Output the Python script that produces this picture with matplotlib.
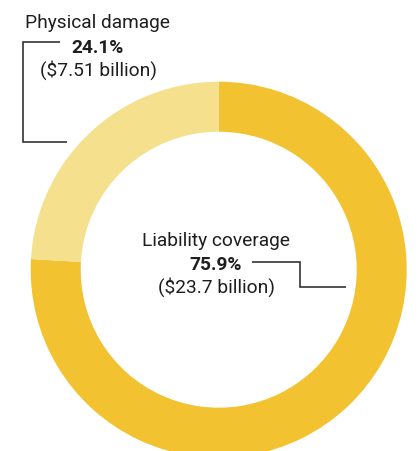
import matplotlib
matplotlib.use("Agg")
import matplotlib.pyplot as plt

categories = ["Liability coverage", "Physical damage"]
shares = [75.9, 24.1]
amounts = ["$23.7 billion", "$7.51 billion"]
colors = ["#F2C230", "#F5E08E"]

W, H = 418, 452
fig = plt.figure(figsize=(W / 100, H / 100), dpi=100)
ax = fig.add_axes([0, 0, 1, 1])
cx, cy, R = 218.7, H - 270.7, 188
ax.pie(shares, colors=colors, startangle=90, counterclock=False,
       center=(cx, cy), radius=R,
       wedgeprops=dict(width=50, linewidth=0))
ax.set_xlim(0, W)
ax.set_ylim(0, H)
ax.set_aspect("equal")
ax.axis("off")

font = "Roboto"
fs = 13.8
tc = "#1e1e1e"

def T(x, y, s, bold=False):
    ax.text(x, H - y, s, ha="center", va="baseline", fontsize=fs,
            fontweight="bold" if bold else "normal", family=font, color=tc)

# Physical damage label
T(97.5, 28.5, categories[1])
T(97.5, 53, f"{shares[1]}%", bold=True)
T(98, 76, f"({amounts[1]})")
ax.plot([60, 23.3, 23.3, 66.7], [H - 42.7, H - 42.7, H - 142.7, H - 142.7],
        color="#222222", lw=1.1, solid_capstyle="butt", solid_joinstyle="miter")

# Liability label
T(216, 246, categories[0])
T(216, 270, f"{shares[0]}%", bold=True)
T(216.3, 292.5, f"({amounts[0]})")
ax.plot([251.7, 300, 300, 346], [H - 262.7, H - 262.7, H - 288.3, H - 288.3],
        color="#222222", lw=1.1, solid_capstyle="butt", solid_joinstyle="miter")

fig.savefig("out.png", dpi=100, facecolor="white")
